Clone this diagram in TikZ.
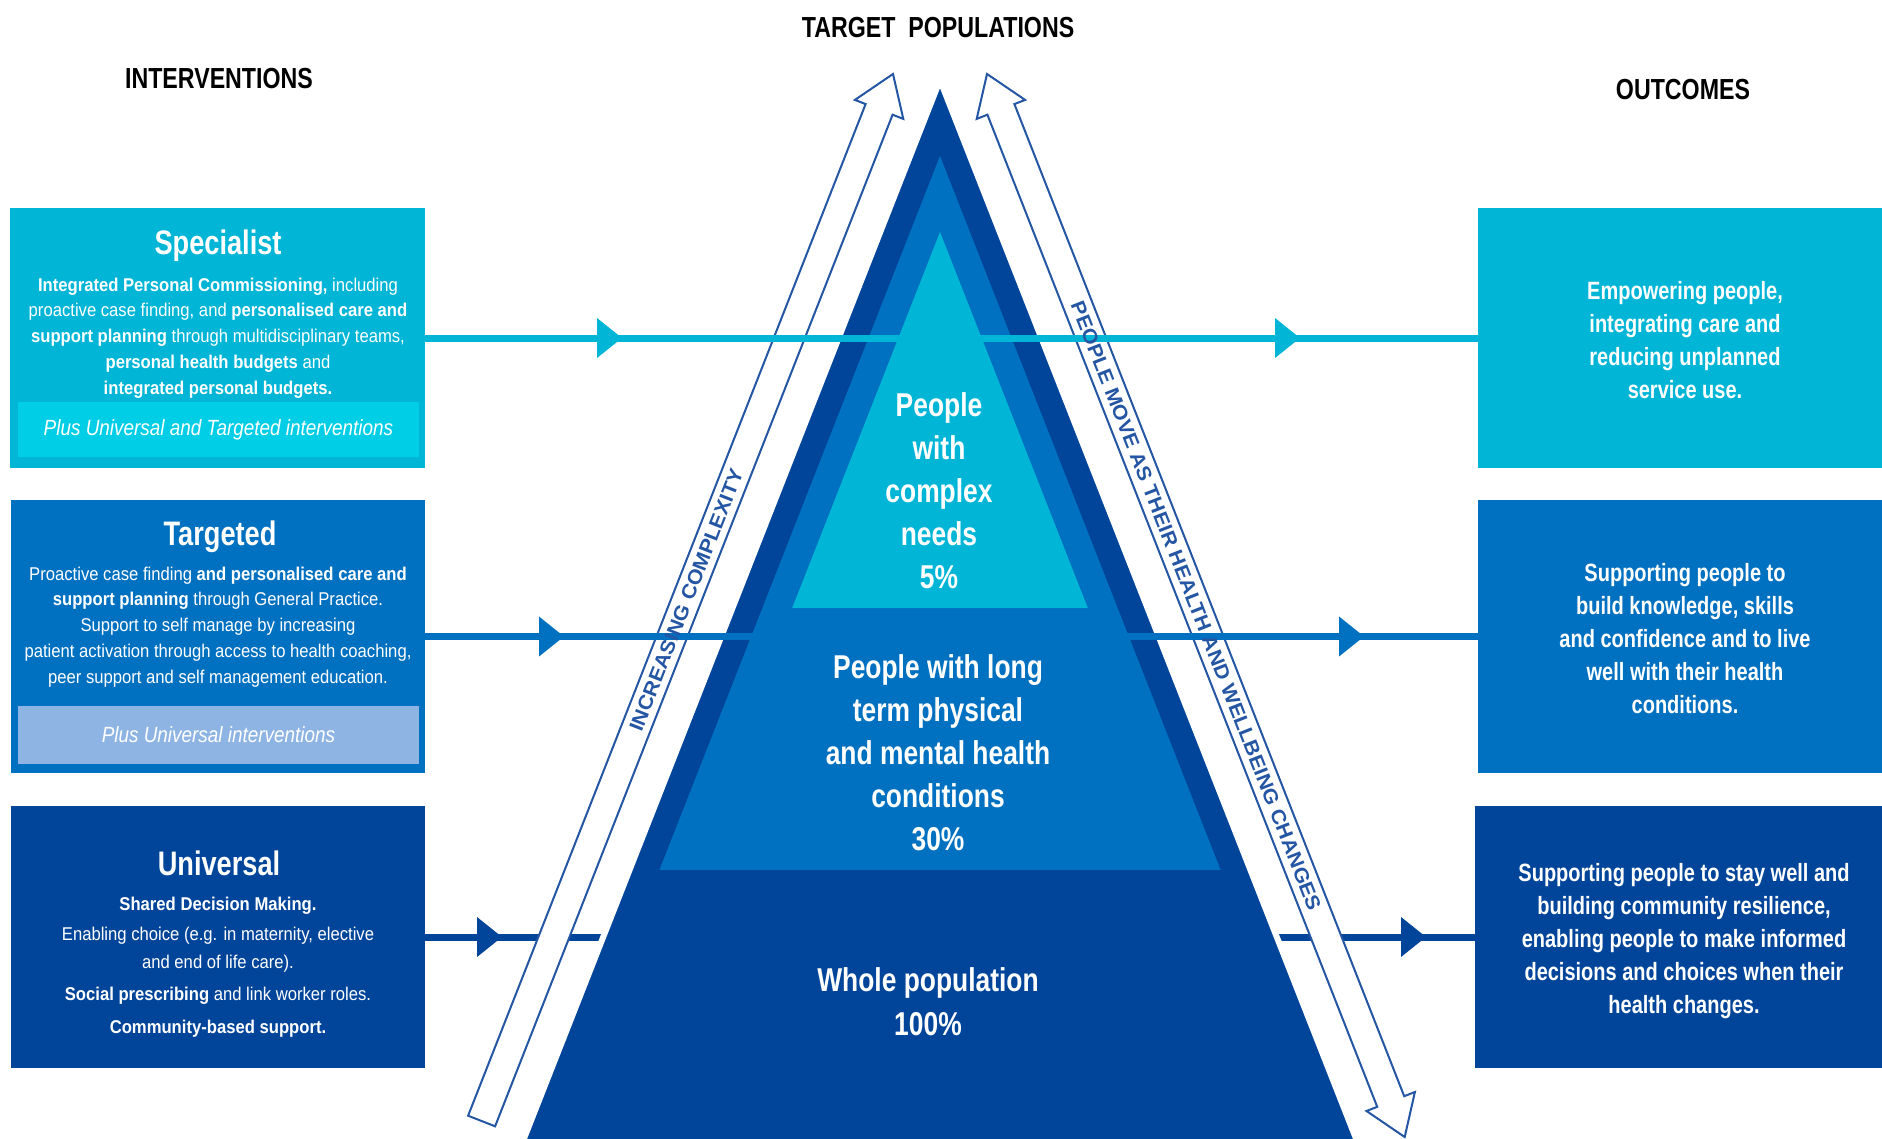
\documentclass[tikz,border=0pt]{standalone}
\usepackage{fontspec}
\setmainfont{Liberation Sans}
\newfontfamily\nar{Liberation Sans}[FakeStretch=0.8]
\newfontfamily\narb{Liberation Sans}[FakeStretch=0.9]
\newfontfamily\narc{Liberation Sans}[FakeStretch=0.86]
\newfontfamily\wid{Liberation Sans}[FakeStretch=1.07]
\usetikzlibrary{decorations.markings}
\definecolor{cyanA}{HTML}{00B5D6}
\definecolor{cyanBar}{HTML}{00CDE6}
\definecolor{midB}{HTML}{0070C0}
\definecolor{midBar}{HTML}{8EB4E3}
\definecolor{navy}{HTML}{00459A}
\definecolor{arwc}{HTML}{2456A4}
\tikzset{
  flow/.style n args={3}{draw=#1, line width=7pt, postaction={decorate},
    decoration={markings,
      mark=at position #2 with {\fill[#1] (0pt,0pt)--(-25pt,20pt)--(-25pt,-20pt)--cycle;},
      mark=at position #3 with {\fill[#1] (0pt,0pt)--(-25pt,20pt)--(-25pt,-20pt)--cycle;}}},
  panel/.style={draw=none, inner sep=0pt, outer sep=0pt},
  bar/.style={panel, fill=#1},
  title/.style={font={\nar\bfseries\fontsize{29pt}{31pt}\selectfont}, text=black, inner sep=0pt},
  boxtitle/.style={font={\nar\bfseries\fontsize{34pt}{36pt}\selectfont}, text=white, inner sep=0pt, anchor=base},
  body/.style={font={\narb\fontsize{18.5pt}{25.8pt}\selectfont}, text=white, align=center, inner sep=0pt},
  bartext/.style={font={\narc\itshape\fontsize{22pt}{24pt}\selectfont}, text=white, inner sep=0pt},
  outtext/.style={font={\nar\bfseries\fontsize{25pt}{33pt}\selectfont}, text=white, align=center, inner sep=0pt},
  pyrtext/.style={font={\nar\bfseries\fontsize{33pt}{43pt}\selectfont}, text=white, align=center, inner sep=0pt},
  arw/.style={fill=white, draw=arwc, line width=2pt, line join=miter},
  arwtext/.style={font={\wid\bfseries\fontsize{20pt}{22pt}\selectfont}, text=arwc, inner sep=0pt},
}
\begin{document}
\begin{tikzpicture}[x=1pt,y=-1pt]
\useasboundingbox (0,0) rectangle (1882,1138);
\fill[white] (0,0) rectangle (1882,1138);

% boxes (left)
\node[panel, fill=cyanA, minimum width=415pt, minimum height=260pt] (spec) at (217.5,338) {};
\node[bar=cyanBar, minimum width=401pt, minimum height=55pt] (specbar) at (218.5,429.5) {};
\node[panel, fill=midB, minimum width=414pt, minimum height=273pt] (targ) at (218,636.5) {};
\node[bar=midBar, minimum width=401pt, minimum height=58pt] (targbar) at (218.5,735) {};
\node[panel, fill=navy, minimum width=414pt, minimum height=262pt] (univ) at (218,937) {};
% boxes (right)
\node[panel, fill=cyanA, minimum width=404pt, minimum height=260pt] (specout) at (1680,338) {};
\node[panel, fill=midB, minimum width=404pt, minimum height=273pt] (targout) at (1680,636.5) {};
\node[panel, fill=navy, minimum width=407pt, minimum height=262pt] (univout) at (1678.5,937) {};

% bottom connector (behind pyramid)
\draw[flow={navy}{77pt}{1001pt}] (univ.east) -- (univout.west);

% pyramid
\fill[navy] (940,80) -- (519.5,1150) -- (1360.5,1150) -- cycle;
\draw[white, line width=6pt, line join=miter] (519.5,1150) -- (940,80) -- (1360.5,1150);
\fill[midB] (940,156) -- (659.4,870) -- (1220.6,870) -- cycle;
\fill[cyanA] (940,232) -- (792.2,608) -- (1087.8,608) -- cycle;

% block arrows
\draw[arw] (893,74) -- (903.3,118.9) -- (892.6,114.7) -- (495.1,1126.3) -- (468.1,1115.7) -- (865.6,104.1) -- (854.9,99.9) -- cycle;
\draw[arw] (987,74) -- (1025.1,99.9) -- (1014.4,104.1) -- (1404.2,1096.2) -- (1414.9,1092.0) -- (1404.7,1137) -- (1366.5,1111.0) -- (1377.2,1106.8) -- (987.4,114.7) -- (976.7,118.9) -- cycle;

% upper connectors
\draw[flow={cyanA}{197pt}{875pt}] (spec.east) -- (specout.west);
\draw[flow={midB}{139pt}{939pt}] (targ.east) -- (targout.west);

% arrow labels
\node[arwtext, rotate=68.55] (inc) at (686.3,600) {INCREASING COMPLEXITY};
\node[arwtext, rotate=-68.55] (move) at (1196,606) {PEOPLE MOVE AS THEIR HEALTH AND WELLBEING CHANGES};

% titles
\node[title] (tint) at (219,79) {INTERVENTIONS};
\node[title] (ttar) at (938,28) {TARGET\ \ POPULATIONS};
\node[title] (tout) at (1683,90) {OUTCOMES};

% left texts
\node[boxtitle] (specT) at (218,254) {Specialist};
\node[body] (specB) at (218,338) {\textbf{Integrated Personal Commissioning,} including\\
proactive case finding, and \textbf{personalised care and}\\
\textbf{support planning} through multidisciplinary teams,\\
\textbf{personal health budgets} and\\
\textbf{integrated personal budgets.}};
\node[bartext] (specP) at (specbar.center) {Plus Universal and Targeted interventions};

\node[boxtitle] (targT) at (220,545) {Targeted};
\node[body] (targB) at (218,627) {Proactive case finding \textbf{and personalised care and}\\
\textbf{support planning} through General Practice.\\
Support to self manage by increasing\\
patient activation through access to health coaching,\\
peer support and self management education.};
\node[bartext] (targP) at (targbar.center) {Plus Universal interventions};

\node[boxtitle] (univT) at (219,875) {Universal};
\node[body, font={\narb\fontsize{18.5pt}{28pt}\selectfont}] (univB) at (218,967) {\textbf{Shared Decision Making.}\\[2pt]
Enabling choice (e.g. in maternity, elective\\
and end of life care).\\[4pt]
\textbf{Social prescribing} and link worker roles.\\[5pt]
\textbf{Community-based support.}};

% right texts
\node[outtext] (specO) at (1685,340) {Empowering people,\\ integrating care and\\ reducing unplanned\\ service use.};
\node[outtext] (targO) at (1685,639) {Supporting people to\\ build knowledge, skills\\ and confidence and to live\\ well with their health\\ conditions.};
\node[outtext] (univO) at (1684,941) {Supporting people to stay well and\\ building community resilience,\\ enabling people to make informed\\ decisions and choices when their\\ health changes.};

% pyramid texts
\node[pyrtext] (p5) at (939,491) {People\\ with\\ complex\\ needs\\ 5\%};
\node[pyrtext] (p30) at (938,753) {People with long\\ term physical\\ and mental health\\ conditions\\ 30\%};
\node[pyrtext, font={\nar\bfseries\fontsize{33pt}{44pt}\selectfont}] (p100) at (928,1002) {Whole population\\ 100\%};
\end{tikzpicture}
\end{document}
